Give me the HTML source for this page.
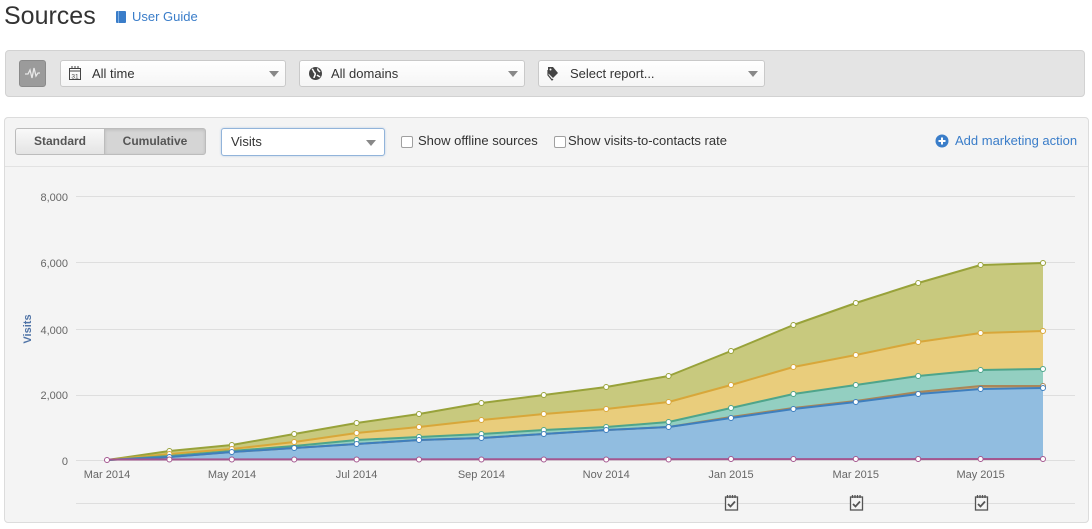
<!DOCTYPE html>
<html><head><meta charset="utf-8">
<style>
*{box-sizing:border-box;margin:0;padding:0}
body{width:1092px;height:529px;background:#fff;font-family:"Liberation Sans",Arial,sans-serif;position:relative;overflow:hidden;color:#333}
.abs{position:absolute}
.title{left:4px;top:1px;font-size:25px;color:#333;line-height:30px}
.ug{left:132px;top:9px;font-size:13px;color:#3a7dc9;line-height:16px}
.book{left:116px;top:11px;width:10px;height:12px;background:#3a7dc9;border-radius:1px}
.book:after{content:"";position:absolute;left:2px;top:0;width:1px;height:12px;background:#7fb0e4}
.tb{left:5px;top:50px;width:1080px;height:47px;background:#e4e4e4;border:1px solid #d2d2d2;border-radius:4px}
.ib{left:19px;top:60px;width:27px;height:27px;background:#9b9b9b;border:1px solid #8a8a8a;border-radius:3px}
.dd{height:27px;top:60px;background:linear-gradient(#fff,#f5f5f5);border:1px solid #c9c9c9;border-radius:3px;font-size:13px;line-height:25px;color:#333}
.dd .t{position:absolute;left:31px;top:0}
.car{position:absolute;top:10px;width:0;height:0;border-left:5px solid transparent;border-right:5px solid transparent;border-top:6px solid #888}
.panel{left:4px;top:117px;width:1085px;height:406px;background:#f4f4f4;border:1px solid #dcdcdc;border-radius:4px}
.sep{left:5px;top:166px;width:1083px;height:1px;background:#e2e2e2}
.seg{top:128px;height:27px;font-size:12px;font-weight:bold;color:#555;line-height:25px;text-align:center;border:1px solid #bcbcbc}
.sel{left:221px;top:128px;width:164px;height:28px;background:#fff;border:1px solid #92b4da;border-radius:3px;font-size:13px;line-height:26px;box-shadow:0 0 2px rgba(100,150,210,.4)}
.cb{top:136px;width:12px;height:12px;border:1px solid #a0a0a0;border-radius:2px;background:#fff}
.lbl{top:133px;font-size:13px;line-height:16px;color:#333}
.am{left:955px;top:133px;font-size:13px;line-height:16px;color:#3a7dc9}
</style></head><body>
<div class="abs title">Sources</div>
<div class="abs book"></div>
<div class="abs ug">User Guide</div>

<div class="abs tb"></div>
<div class="abs ib"></div>
<svg class="abs" style="left:19px;top:60px" width="27" height="27"><polyline points="6,14 9,14 11,10 13,18 15,8 17,16 19,13 21,13" fill="none" stroke="#e8e8e8" stroke-width="1.3"/></svg>

<div class="abs dd" style="left:60px;width:226px"><span class="t">All time</span><span class="car" style="left:208px"></span></div>
<svg class="abs" style="left:68px;top:65px" width="14" height="16"><rect x="1.5" y="3.5" width="11" height="11" fill="none" stroke="#444" stroke-width="1"/><line x1="1.5" y1="6" x2="12.5" y2="6" stroke="#444"/><line x1="4" y1="1" x2="4" y2="4" stroke="#444"/><line x1="7" y1="1" x2="7" y2="4" stroke="#444"/><line x1="10" y1="1" x2="10" y2="4" stroke="#444"/><text x="7" y="13.5" font-size="6.5" text-anchor="middle" fill="#444" font-family="Liberation Sans">31</text></svg>

<div class="abs dd" style="left:299px;width:226px"><span class="t">All domains</span><span class="car" style="left:208px"></span></div>
<svg class="abs" style="left:308px;top:66px" width="15" height="15"><circle cx="7.5" cy="7.5" r="6.5" fill="#444"/><path d="M4,3 C6,4 5,6 7,7 C8,9 6,10 6,12 M10,2.5 C9,4 11,5 12,6 M9,9 C10,10 11,10 12,11" stroke="#fff" stroke-width="1.5" fill="none"/></svg>

<div class="abs dd" style="left:538px;width:227px"><span class="t">Select report...</span><span class="car" style="left:209px"></span></div>
<svg class="abs" style="left:546px;top:65px" width="14" height="16"><path d="M2,2 L7,2 L12,8 L7,13 L2,8 Z" fill="#444"/><path d="M2,5 L2,10 L6,15 L7,14" fill="none" stroke="#444" stroke-width="1.2"/><circle cx="4.5" cy="4.5" r="1" fill="#fff"/></svg>

<div class="abs panel"></div>
<div class="abs sep"></div>
<div class="abs seg" style="left:15px;width:90px;background:linear-gradient(#f9f9f9,#e4e4e4);border-radius:3px 0 0 3px">Standard</div>
<div class="abs seg" style="left:104px;width:102px;background:#d5d5d5;border-radius:0 3px 3px 0;box-shadow:inset 0 1px 3px rgba(0,0,0,.12)">Cumulative</div>
<div class="abs sel"><span style="position:absolute;left:9px">Visits</span><span class="car" style="left:144px;top:11px"></span></div>
<div class="abs cb" style="left:401px"></div>
<div class="abs lbl" style="left:418px">Show offline sources</div>
<div class="abs cb" style="left:554px"></div>
<div class="abs lbl" style="left:568px">Show visits-to-contacts rate</div>
<svg class="abs" style="left:935px;top:134px" width="14" height="14"><circle cx="7" cy="7" r="6.5" fill="#3a7dc9"/><path d="M7,3.5 V10.5 M3.5,7 H10.5" stroke="#fff" stroke-width="2"/></svg>
<div class="abs am">Add marketing action</div>

<svg class="abs" style="left:0;top:0" width="1092" height="529" font-family="Liberation Sans, Arial, sans-serif">
<g stroke="#dedede" stroke-width="1">
<line x1="76" y1="196.5" x2="1075" y2="196.5"/>
<line x1="76" y1="262.5" x2="1075" y2="262.5"/>
<line x1="76" y1="329.5" x2="1075" y2="329.5"/>
<line x1="76" y1="395.5" x2="1075" y2="395.5"/>
<line x1="76" y1="460.5" x2="1075" y2="460.5"/>
<line x1="76" y1="503.5" x2="1075" y2="503.5"/>
</g>
<g font-size="11" fill="#666" text-anchor="end">
<text x="68" y="201">8,000</text>
<text x="68" y="267">6,000</text>
<text x="68" y="334">4,000</text>
<text x="68" y="399">2,000</text>
<text x="68" y="465">0</text>
</g>
<text transform="translate(31,329) rotate(-90)" font-size="11" font-weight="bold" fill="#4f73a6" text-anchor="middle">Visits</text>
<g font-size="11" fill="#666" text-anchor="middle">
<text x="107" y="478">Mar 2014</text>
<text x="232" y="478">May 2014</text>
<text x="356.6" y="478">Jul 2014</text>
<text x="481.4" y="478">Sep 2014</text>
<text x="606.2" y="478">Nov 2014</text>
<text x="731" y="478">Jan 2015</text>
<text x="855.8" y="478">Mar 2015</text>
<text x="980.6" y="478">May 2015</text>
</g>
<!-- areas -->
<polygon fill="#c8c97e" points="107,460 169.4,451 231.8,445 294.2,434 356.6,423 419,414 481.4,403 543.8,395 606.2,387 668.6,376 731,351 793.4,325 855.8,303 918.2,283 980.6,265 1043,263 1043,460"/>
<polygon fill="#e9cd7c" points="107,460 169.4,454 231.8,449 294.2,442 356.6,433 419,427 481.4,420 543.8,414 606.2,409 668.6,402 731,385 793.4,367 855.8,355 918.2,342 980.6,333 1043,331 1043,460"/>
<polygon fill="#93cfc1" points="107,460 169.4,456 231.8,451 294.2,446 356.6,440 419,437 481.4,434 543.8,430 606.2,427 668.6,422 731,408 793.4,394 855.8,385 918.2,376 980.6,370 1043,369 1043,460"/>
<polygon fill="#c9a877" points="107,460 169.4,457 231.8,452 294.2,448 356.6,444 419,440 481.4,438 543.8,434 606.2,430 668.6,427 731,417 793.4,408 855.8,401 918.2,392 980.6,386 1043,386 1043,460"/>
<polygon fill="#91bde0" points="107,460 169.4,457 231.8,452 294.2,448 356.6,444 419,440 481.4,438 543.8,434 606.2,430 668.6,427 731,418 793.4,409 855.8,402 918.2,394 980.6,389 1043,388 1043,460"/>
<g fill="none" stroke-width="2" stroke-linejoin="round">
<polyline stroke="#98a23a" points="107,460 169.4,451 231.8,445 294.2,434 356.6,423 419,414 481.4,403 543.8,395 606.2,387 668.6,376 731,351 793.4,325 855.8,303 918.2,283 980.6,265 1043,263"/>
<polyline stroke="#d8a73a" points="107,460 169.4,454 231.8,449 294.2,442 356.6,433 419,427 481.4,420 543.8,414 606.2,409 668.6,402 731,385 793.4,367 855.8,355 918.2,342 980.6,333 1043,331"/>
<polyline stroke="#4ea58b" points="107,460 169.4,456 231.8,451 294.2,446 356.6,440 419,437 481.4,434 543.8,430 606.2,427 668.6,422 731,408 793.4,394 855.8,385 918.2,376 980.6,370 1043,369"/>
<polyline stroke="#a98659" points="107,460 169.4,457 231.8,452 294.2,448 356.6,444 419,440 481.4,438 543.8,434 606.2,430 668.6,427 731,417 793.4,408 855.8,401 918.2,392 980.6,386 1043,386"/>
<polyline stroke="#3e7fbe" points="107,460 169.4,457 231.8,452 294.2,448 356.6,444 419,440 481.4,438 543.8,434 606.2,430 668.6,427 731,418 793.4,409 855.8,402 918.2,394 980.6,389 1043,388"/>
<polyline stroke="#a4568f" points="107,459.5 1043,459"/>
</g>
<g fill="#fff" stroke-width="1">
<g stroke="#98a23a"><circle cx="169.4" cy="451" r="2.5"/><circle cx="231.8" cy="445" r="2.5"/><circle cx="294.2" cy="434" r="2.5"/><circle cx="356.6" cy="423" r="2.5"/><circle cx="419" cy="414" r="2.5"/><circle cx="481.4" cy="403" r="2.5"/><circle cx="543.8" cy="395" r="2.5"/><circle cx="606.2" cy="387" r="2.5"/><circle cx="668.6" cy="376" r="2.5"/><circle cx="731" cy="351" r="2.5"/><circle cx="793.4" cy="325" r="2.5"/><circle cx="855.8" cy="303" r="2.5"/><circle cx="918.2" cy="283" r="2.5"/><circle cx="980.6" cy="265" r="2.5"/><circle cx="1043" cy="263" r="2.5"/></g>
<g stroke="#d8a73a"><circle cx="169.4" cy="454" r="2.5"/><circle cx="231.8" cy="449" r="2.5"/><circle cx="294.2" cy="442" r="2.5"/><circle cx="356.6" cy="433" r="2.5"/><circle cx="419" cy="427" r="2.5"/><circle cx="481.4" cy="420" r="2.5"/><circle cx="543.8" cy="414" r="2.5"/><circle cx="606.2" cy="409" r="2.5"/><circle cx="668.6" cy="402" r="2.5"/><circle cx="731" cy="385" r="2.5"/><circle cx="793.4" cy="367" r="2.5"/><circle cx="855.8" cy="355" r="2.5"/><circle cx="918.2" cy="342" r="2.5"/><circle cx="980.6" cy="333" r="2.5"/><circle cx="1043" cy="331" r="2.5"/></g>
<g stroke="#4ea58b"><circle cx="356.6" cy="440" r="2.5"/><circle cx="419" cy="437" r="2.5"/><circle cx="481.4" cy="434" r="2.5"/><circle cx="543.8" cy="430" r="2.5"/><circle cx="606.2" cy="427" r="2.5"/><circle cx="668.6" cy="422" r="2.5"/><circle cx="731" cy="408" r="2.5"/><circle cx="793.4" cy="394" r="2.5"/><circle cx="855.8" cy="385" r="2.5"/><circle cx="918.2" cy="376" r="2.5"/><circle cx="980.6" cy="370" r="2.5"/><circle cx="1043" cy="369" r="2.5"/></g>
<g stroke="#a98659"><circle cx="1043" cy="386" r="2.5"/></g>
<g stroke="#3e7fbe"><circle cx="169.4" cy="457" r="2.5"/><circle cx="231.8" cy="452" r="2.5"/><circle cx="294.2" cy="448" r="2.5"/><circle cx="356.6" cy="444" r="2.5"/><circle cx="419" cy="440" r="2.5"/><circle cx="481.4" cy="438" r="2.5"/><circle cx="543.8" cy="434" r="2.5"/><circle cx="606.2" cy="430" r="2.5"/><circle cx="668.6" cy="427" r="2.5"/><circle cx="731" cy="418" r="2.5"/><circle cx="793.4" cy="409" r="2.5"/><circle cx="855.8" cy="402" r="2.5"/><circle cx="918.2" cy="394" r="2.5"/><circle cx="980.6" cy="389" r="2.5"/><circle cx="1043" cy="388" r="2.5"/></g>
<g stroke="#a4568f"><circle cx="107" cy="460" r="2.5"/><circle cx="169.4" cy="459.5" r="2.5"/><circle cx="231.8" cy="459.5" r="2.5"/><circle cx="294.2" cy="459.5" r="2.5"/><circle cx="356.6" cy="459.5" r="2.5"/><circle cx="419" cy="459.5" r="2.5"/><circle cx="481.4" cy="459.5" r="2.5"/><circle cx="543.8" cy="459.5" r="2.5"/><circle cx="606.2" cy="459.5" r="2.5"/><circle cx="668.6" cy="459.5" r="2.5"/><circle cx="731" cy="459" r="2.5"/><circle cx="793.4" cy="459" r="2.5"/><circle cx="855.8" cy="459" r="2.5"/><circle cx="918.2" cy="459" r="2.5"/><circle cx="980.6" cy="459" r="2.5"/><circle cx="1043" cy="459" r="2.5"/></g>
</g>
<!-- calendar icons -->
<g fill="none" stroke="#555" stroke-width="1.3">
<g transform="translate(725,494)"><rect x="0.5" y="3" width="12" height="13" fill="#f4f4f4"/><path d="M2.5,1 V4 M5,1 V4 M7.5,1 V4 M10,1 V4"/><path d="M3,10 L5.5,12.5 L10,7.5" stroke-width="1.8"/></g>
<g transform="translate(850,494)"><rect x="0.5" y="3" width="12" height="13" fill="#f4f4f4"/><path d="M2.5,1 V4 M5,1 V4 M7.5,1 V4 M10,1 V4"/><path d="M3,10 L5.5,12.5 L10,7.5" stroke-width="1.8"/></g>
<g transform="translate(975,494)"><rect x="0.5" y="3" width="12" height="13" fill="#f4f4f4"/><path d="M2.5,1 V4 M5,1 V4 M7.5,1 V4 M10,1 V4"/><path d="M3,10 L5.5,12.5 L10,7.5" stroke-width="1.8"/></g>
</g>
</svg>
</body></html>
